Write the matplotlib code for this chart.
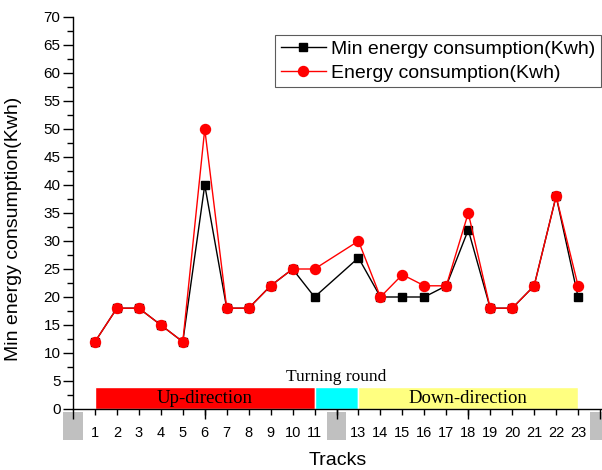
import matplotlib
matplotlib.use("Agg")
import matplotlib.pyplot as plt
from matplotlib.patches import Rectangle

plt.rcParams["font.family"] = ["Liberation Sans", "DejaVu Sans"]

# Track numbers (track 12 is the turning section, no measurement)
tracks = [1, 2, 3, 4, 5, 6, 7, 8, 9, 10, 11, 13, 14, 15, 16, 17, 18, 19, 20, 21, 22, 23]
min_energy = [12, 18, 18, 15, 12, 40, 18, 18, 22, 25, 20, 27, 20, 20, 20, 22, 32, 18, 18, 22, 38, 20]
energy = [12, 18, 18, 15, 12, 50, 18, 18, 22, 25, 25, 30, 20, 24, 22, 22, 35, 18, 18, 22, 38, 22]

tick_pos = list(range(1, 24))
tick_labels = [str(t) if t != 12 else "" for t in tick_pos]
long_ticks = [0, 6, 12, 18, 24]
gray_slots = [0, 12, 24]

# direction bands: (start, end, colour, label)
bands = [(1, 11, "#ff0000", "Up-direction"),
         (11, 13, "#00ffff", ""),
         (13, 23, "#ffff80", "Down-direction")]

fig = plt.figure(figsize=(6.02, 4.70), dpi=100)
ax = fig.add_axes([73 / 602, 1 - 409 / 470, 529 / 602, 392 / 470])

ax.plot(tracks, min_energy, color="black", lw=1, marker="s", ms=5.8,
        label="Min energy consumption(Kwh)", zorder=3)
ax.plot(tracks, energy, color="red", lw=1, marker="o", ms=7.2,
        label="Energy consumption(Kwh)", zorder=4)

for x0, x1, c, lab in bands:
    ax.add_patch(Rectangle((x0, 0), x1 - x0, 3.95, facecolor=c,
                           edgecolor="white", lw=1, zorder=2))
    if lab:
        ax.text((x0 + x1) / 2, 1.9, lab, ha="center", va="center",
                family="Liberation Serif", fontsize=13.5, zorder=3)
ax.text(12, 4.3, "Turning round", ha="center", va="bottom",
        family="Liberation Serif", fontsize=12.5)

# gray blocks below the axis at the empty slots
for g in gray_slots:
    ax.add_patch(Rectangle((g - 0.45, -0.55), 0.9, -4.9, facecolor="#c0c0c0",
                           edgecolor="none", clip_on=False, zorder=1))

ax.set_xlim(0, 24.09)
ax.set_ylim(0, 70)
ax.set_xticks(tick_pos)
ax.set_xticklabels(tick_labels)
ax.set_xticks(long_ticks, minor=True)
ax.xaxis.remove_overlapping_locs = False
ax.tick_params(axis="x", which="major", length=4, width=1, pad=8.5, labelsize=10.5)
ax.tick_params(axis="x", which="minor", length=7, width=1)

ax.set_yticks(range(0, 71, 5))
ax.set_yticks([v + 2.5 for v in range(0, 70, 5)], minor=True)
ax.tick_params(axis="y", which="major", length=7, width=1, pad=2, labelsize=11)
ax.tick_params(axis="y", which="minor", length=4, width=1)

for s in ["top", "right"]:
    ax.spines[s].set_visible(False)
ax.spines["left"].set_linewidth(1)
ax.spines["bottom"].set_linewidth(1)

ax.set_xlabel("Tracks", fontsize=14)
ax.xaxis.set_label_coords(0.5, -0.11)
ax.set_ylabel("Min energy consumption(Kwh)", fontsize=14)
ax.yaxis.set_label_coords(-0.097, 0.46)

leg = ax.legend(loc="upper right", bbox_to_anchor=(0.999, 0.955), fontsize=14,
                frameon=True, fancybox=False, edgecolor="#333333",
                borderpad=0.3, labelspacing=0.3, handlelength=2.3,
                handletextpad=0.3, borderaxespad=0.0)
leg.get_frame().set_linewidth(0.8)

fig.savefig("out.png", dpi=100)
